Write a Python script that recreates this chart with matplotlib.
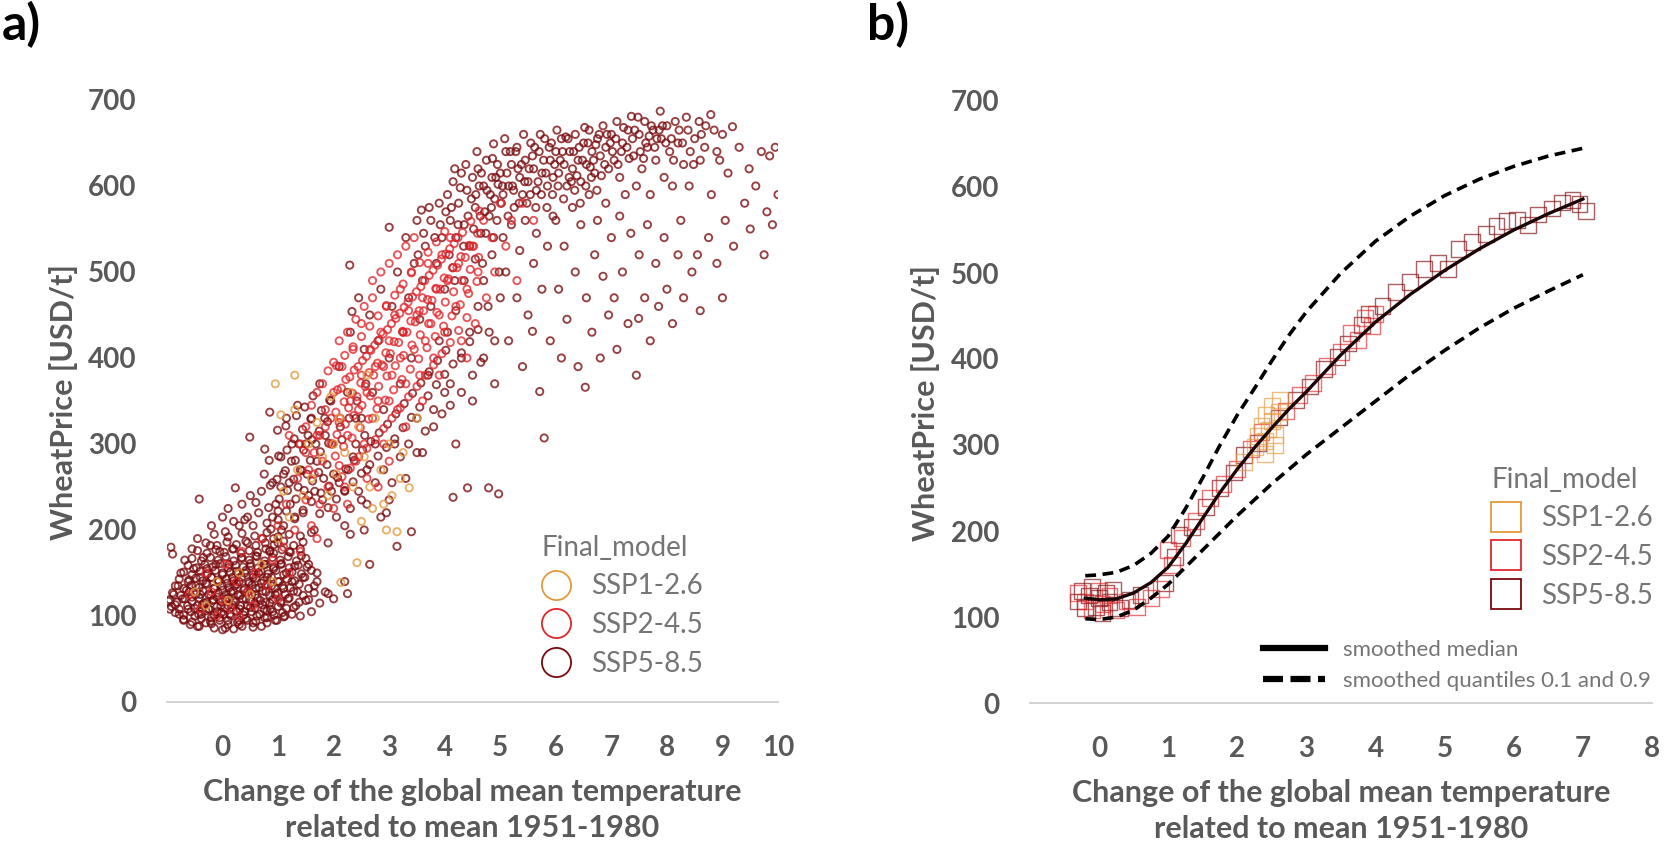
import matplotlib
matplotlib.use("Agg")
import matplotlib.pyplot as plt
from matplotlib.lines import Line2D

plt.rcParams['font.family'] = ['Lato', 'DejaVu Sans']

# colours
c_ssp1 = "#E39A3E"
c_ssp2 = "#E0262B"
c_ssp5 = "#7A0A0D"
grey_txt = "#595959"
grey_leg = "#757575"

scenarios = ["SSP1-2.6", "SSP2-4.5", "SSP5-8.5"]
yticks = [0, 100, 200, 300, 400, 500, 600, 700]
xticks_a = [0, 1, 2, 3, 4, 5, 6, 7, 8, 9, 10]
xticks_b = [0, 1, 2, 3, 4, 5, 6, 7, 8]
xlabel = "Change of the global mean temperature\nrelated to mean 1951-1980"
ylabel = "WheatPrice [USD/t]"

# ---- panel a: all simulations (temperature change, wheat price) ----
a_ssp1 = [(-0.5,128),(-0.3,112),(-0.1,140),(0.1,118),(0.3,150),(0.5,125),(0.7,160),(0.9,140),
          (0.95,370),(1.0,190),(1.05,334),(1.1,245),(1.2,215),(1.3,340),(1.3,380),(1.35,270),
          (1.45,240),(1.55,300),(1.6,260),(1.7,325),(1.8,285),(1.9,240),(1.95,355),(2.0,300),
          (2.05,265),(2.1,330),(2.13,139),(2.2,290),(2.3,360),(2.35,250),(2.42,162),(2.45,320),
          (2.55,285),(2.6,380),(2.7,225),(2.75,330),(2.85,270),(2.95,200),(3.0,300),(3.05,240),
          (3.14,198),(3.25,290),(3.36,249),(3.5,330),(2.65,250),(2.9,230),(3.2,260),(2.5,210)]

a_ssp2 = [(-0.6,125),(-0.4,108),(-0.3,150),(-0.2,128),(-0.1,100),(0.0,118),(0.05,160),(0.15,108),
          (0.25,140),(0.3,100),(0.35,175),(0.45,128),(0.55,112),(0.6,150),(0.7,190),(0.8,135),
          (0.9,165),(1.0,205),(1.0,120),(1.1,180),(1.15,230),(1.2,150),(1.2,310),(1.3,200),
          (1.35,260),(1.4,175),(1.5,235),(1.5,290),(1.6,205),(1.65,265),(1.7,310),(1.7,190),
          (1.75,230),(1.8,280),(1.85,340),(1.9,250),(1.95,300),(2.0,225),(2.0,360),(2.1,275),
          (2.1,325),(2.15,390),(2.2,250),(2.25,310),(2.25,230),(2.3,350),(2.35,410),(2.4,280),
          (2.45,340),(2.5,380),(2.5,440),(2.55,300),(2.6,360),(2.6,260),(2.65,410),(2.7,330),
          (2.7,470),(2.75,390),(2.8,350),(2.8,250),(2.85,430),(2.9,300),(2.9,390),(2.95,460),
          (3.0,350),(3.0,420),(3.0,280),(3.05,380),(3.1,450),(3.15,340),(3.2,400),(3.2,480),
          (3.25,430),(3.3,370),(3.3,320),(3.35,455),(3.4,500),(3.45,410),(3.5,450),(3.55,380),
          (3.6,470),(3.6,350),(3.65,420),(3.7,510),(3.75,440),(3.8,400),(3.85,480),(3.9,450),
          (3.9,380),(3.95,520),(4.0,430),(4.05,490),(4.1,540),(4.2,460),(4.25,510),(4.3,420),
          (4.4,480),(4.4,400),(4.5,530),(4.55,440),(4.6,500),(4.7,560),(4.75,470),(4.85,540),
          (4.9,500),(5.0,580),(5.1,530),(5.2,560),(5.3,490),(5.4,580),(5.6,560),
          (2.03,286),(2.06,311),(2.04,337),(2.07,363),(2.05,391),(2.18,297),(2.21,323),(2.19,349),
          (2.22,375),(2.2,403),(2.33,307),(2.36,333),(2.34,359),(2.37,386),(2.35,413),(2.48,319),
          (2.51,345),(2.49,371),(2.52,397),(2.5,425),(2.63,329),(2.66,356),(2.64,383),(2.67,409),
          (2.65,437),(2.78,341),(2.81,367),(2.79,394),(2.82,421),(2.8,449),(2.93,351),(2.96,379),
          (2.94,406),(2.97,433),(2.95,461),(3.08,363),(3.11,391),(3.09,419),(3.12,446),(3.1,473),
          (3.23,375),(3.26,403),(3.24,431),(3.27,459),(3.25,486),(3.38,387),(3.41,415),(3.39,443),
          (3.42,471),(3.4,499),(3.53,399),(3.56,427),(3.54,455),(3.57,483),(3.55,511),(3.68,412),
          (3.71,440),(3.69,468),(3.72,496),(3.7,523),(3.83,425),(3.86,453),(3.84,481),(3.87,508),
          (3.85,535),(3.98,437),(4.01,465),(3.99,493),(4.02,521),(4.0,547),(4.13,449),(4.16,477),
          (4.14,505),(4.17,533),(4.28,462),(4.31,490),(4.29,518),(4.32,546),(4.43,475),(4.46,503),
          (4.44,531),(4.47,559),(4.58,489),(4.61,517),(4.59,545),(4.62,571),
          (1.4,300),(1.5,320),(1.6,345),(1.7,360),(1.8,370),(1.9,385),(2.0,395),(1.55,270),
          (1.65,290),(1.75,310),(1.85,320),(1.95,330),
          (2.1,420),(2.25,430),(2.4,445),(2.55,460),(2.7,490),(2.85,500),(3.0,510),(3.15,520),
          (3.3,530),(3.45,540),(2.15,262),(2.3,272),(2.45,285),(2.6,295),(2.75,305),(2.9,318),
          (3.05,330),(3.2,342),(3.35,355),(3.5,367),(3.65,380),(3.8,392),(3.95,405),(4.1,418),
          (4.25,432),(4.4,447),(2.12,330),(2.27,342),(2.42,355),(2.57,367),(2.72,380),(2.87,392),
          (3.02,405),(3.17,418),(3.32,430),(3.47,442),(3.62,455),(3.77,467),(3.92,480),(4.07,492),
          (4.22,505),(4.37,517),(4.52,530),(2.14,365),(2.29,378),(2.44,390),(2.59,402),(2.74,415),
          (2.89,428),(3.04,440),(3.19,452),(3.34,465),(3.49,477),(3.64,490),(3.79,502),(3.94,515),
          (4.09,527),(4.24,540)]

a_ssp5 = [
    # cloud around present temperature
    (-0.97,117),(-0.95,108),(-0.93,180),(-0.9,172),(-0.88,125),(-0.85,113),(-0.8,135),(-0.78,102),
    (-0.75,150),(-0.72,120),(-0.7,95),(-0.68,165),(-0.65,130),(-0.62,108),(-0.6,142),(-0.58,90),
    (-0.55,122),(-0.55,178),(-0.52,155),(-0.5,100),(-0.48,135),(-0.45,112),(-0.45,190),(-0.42,88),
    (-0.4,145),(-0.4,125),(-0.38,102),(-0.35,168),(-0.33,115),(-0.3,92),(-0.3,138),(-0.28,155),
    (-0.25,108),(-0.25,125),(-0.22,182),(-0.2,98),(-0.2,145),(-0.18,118),(-0.15,86),(-0.15,132),
    (-0.12,160),(-0.1,105),(-0.1,122),(-0.08,142),(-0.05,95),(-0.05,175),(-0.03,112),(0.0,130),
    (0.0,150),(0.0,84),(0.02,102),(0.05,120),(0.05,198),(0.08,138),(0.1,90),(0.1,112),(0.12,160),
    (0.15,128),(0.15,100),(0.18,145),(0.2,85),(0.2,118),(0.2,178),(0.22,135),(0.25,105),(0.25,152),
    (0.28,125),(0.3,95),(0.3,140),(0.32,112),(0.35,168),(0.35,88),(0.38,130),(0.4,105),(0.4,150),
    (0.42,120),(0.45,95),(0.45,185),(0.48,138),(0.5,110),(0.5,158),(0.52,125),(0.55,92),(0.55,145),
    (0.58,115),(0.6,170),(0.6,132),(0.62,100),(0.65,150),(0.68,118),(0.7,88),(0.7,138),(0.72,190),
    (0.75,108),(0.75,160),(0.78,128),(0.8,98),(0.8,145),(0.85,115),(0.85,175),(0.88,135),(0.9,105),
    (0.92,155),(0.95,125),(0.98,95),(1.0,140),(1.0,185),(1.05,115),(1.05,160),(1.1,132),(1.12,100),
    (1.15,150),(1.18,120),(1.2,175),(1.25,140),(1.28,110),(1.3,158),(1.35,128),(1.4,100),(1.42,170),
    (1.45,145),(1.5,118),(1.55,160),(1.6,105),(1.65,135),(1.7,150),(1.75,115),(1.85,128),(2.0,120),
    (2.2,140),(1.9,126),(2.25,126),
    (-0.45,88),(-0.2,91),(0.05,86),(0.3,90),(0.55,87),(0.8,92),
    (-0.7,96),(-0.55,93),(-0.38,97),(-0.22,94),(-0.05,98),(0.1,95),(0.27,93),(0.42,97),(0.6,94),
    (0.76,98),(0.95,95),(1.1,99),
    (-0.85,104),(-0.7,101),(-0.57,105),(-0.43,102),(-0.3,106),(-0.15,101),(-0.02,104),(0.13,102),
    (0.25,106),(0.38,101),(0.52,105),(0.67,102),(0.8,106),(0.93,101),(1.08,104),(1.25,102),
    (-0.92,111),(-0.78,108),(-0.63,112),(-0.5,109),(-0.36,113),(-0.24,108),(-0.1,111),(0.04,109),
    (0.18,113),(0.31,108),(0.45,112),(0.58,109),(0.72,113),(0.86,108),(1.0,111),(1.15,109),(1.32,112),
    (-0.95,119),(-0.82,116),(-0.68,120),(-0.55,117),(-0.42,121),(-0.29,116),(-0.16,119),(-0.03,117),
    (0.1,121),(0.23,116),(0.36,120),(0.5,117),(0.63,121),(0.77,116),(0.9,119),(1.05,117),(1.2,121),
    (1.38,116),(1.55,119),
    (-0.9,127),(-0.75,124),(-0.6,128),(-0.48,125),(-0.35,129),(-0.21,124),(-0.08,127),(0.06,125),
    (0.19,129),(0.32,124),(0.45,128),(0.59,125),(0.72,129),(0.85,124),(0.99,127),(1.13,125),
    (1.28,129),(1.45,124),(1.65,127),
    (-0.85,135),(-0.7,132),(-0.56,136),(-0.42,133),(-0.28,137),(-0.15,132),(-0.01,135),(0.12,133),
    (0.26,137),(0.4,132),(0.53,136),(0.66,133),(0.8,137),(0.94,132),(1.08,135),(1.22,133),
    (1.38,137),(1.55,132),
    (-0.78,143),(-0.62,140),(-0.48,144),(-0.35,141),(-0.2,145),(-0.07,140),(0.07,143),(0.2,141),
    (0.34,145),(0.47,140),(0.6,144),(0.74,141),(0.88,145),(1.02,140),(1.16,143),(1.3,141),
    (1.48,145),(1.7,140),
    (-0.7,151),(-0.55,148),(-0.4,152),(-0.27,149),(-0.13,153),(0.0,148),(0.14,151),(0.28,149),
    (0.42,153),(0.55,148),(0.69,152),(0.82,149),(0.96,153),(1.1,148),(1.25,151),(1.42,149),(1.6,153),
    (-0.62,159),(-0.47,156),(-0.32,160),(-0.18,157),(-0.04,161),(0.1,156),(0.24,159),(0.37,157),
    (0.5,161),(0.64,156),(0.78,160),(0.92,157),(1.06,161),(1.2,156),(1.36,159),(1.52,157),
    (-0.55,167),(-0.38,164),(-0.22,168),(-0.08,165),(0.06,169),(0.2,164),(0.34,167),(0.48,165),
    (0.62,169),(0.76,164),(0.9,168),(1.04,165),(1.18,169),(1.33,164),(1.5,167),
    (-0.45,176),(-0.28,173),(-0.12,177),(0.03,174),(0.18,178),(0.33,173),(0.48,176),(0.63,174),
    (0.78,178),(0.92,173),(1.07,177),(1.22,174),(1.4,178),
    (-0.3,185),(-0.1,182),(0.08,186),(0.25,183),(0.42,187),(0.6,182),(0.77,185),(0.93,183),
    (1.1,187),(1.28,182),(1.45,186),
    (-0.15,195),(0.1,192),(0.35,196),(0.58,193),(0.8,197),(1.0,192),(1.2,195),(1.4,193),(1.6,197),
    (0.3,205),(0.45,215),(0.55,205),(0.65,220),(0.7,245),(0.5,240),(0.2,210),(0.0,215),
    (-0.2,205),(0.35,230),(0.9,215),(0.75,265),(1.05,250),
    # rising band 0 - 2.5
    (-0.42,236),(0.1,225),(0.23,249),(0.4,212),(0.49,308),(0.6,232),(0.76,294),(0.8,208),(0.85,337),
    (0.9,255),(1.0,222),(1.05,285),(1.1,205),(1.15,330),(1.2,255),(1.25,300),(1.3,215),(1.35,345),
    (1.4,270),(1.45,220),(1.5,300),(1.55,240),(1.6,330),(1.65,200),(1.7,280),(1.75,370),(1.8,235),
    (1.85,310),(1.9,185),(1.95,350),(2.0,265),(2.05,215),(2.1,390),(2.15,305),(2.2,245),(2.25,360),
    (2.29,508),(2.3,195),(2.3,430),(2.33,454),(2.35,285),(2.4,330),(2.45,470),(2.5,235),
    (0.85,176),(0.87,201),(0.83,226),(0.86,252),(0.84,281),(1.0,212),(1.02,236),(0.98,259),
    (1.01,286),(0.99,316),(1.15,222),(1.17,246),(1.13,269),(1.16,293),(1.14,321),(1.3,213),
    (1.32,236),(1.28,259),(1.31,281),(1.29,306),(1.33,333),(1.45,223),(1.47,246),(1.43,269),
    (1.46,293),(1.44,317),(1.48,343),(1.6,233),(1.62,257),(1.58,281),(1.61,305),(1.59,329),
    (1.63,356),(1.75,219),(1.77,243),(1.73,267),(1.76,291),(1.74,315),(1.78,339),(1.9,226),
    (1.92,251),(1.88,276),(1.91,301),(1.89,326),(1.93,351),
    (0.92,190),(0.96,230),(1.06,200),(1.1,265),(1.22,230),(1.24,280),(1.36,250),(1.38,300),
    (1.52,265),(1.54,310),(1.66,245),(1.68,300),(1.82,260),(1.84,330),(1.96,245),(1.98,300),
    (2.1,255),(2.12,320),(2.26,270),(2.28,330),(2.4,300),(2.42,350),(2.56,310),(2.58,370),
    (2.05,236),(2.07,261),(2.2,246),(2.22,271),(2.35,256),(2.37,281),(2.5,266),(2.52,293),
    (2.65,276),(2.67,303),(2.8,286),(2.82,313),(2.95,296),(2.97,323),(3.1,306),(3.12,335),
    (3.25,319),(3.27,347),(3.4,331),(3.42,359),(3.55,343),(3.57,371),(3.7,356),(3.72,384),
    (3.85,369),(3.87,397),(4.0,381),(4.02,409),(4.15,393),(4.3,406),(4.45,419),(4.6,433),
    (2.3,225),(2.45,245),(2.6,230),(2.75,255),(2.9,270),(3.05,255),(3.2,285),(3.35,300),
    (3.5,290),(3.65,315),(3.8,320),(3.95,335),(4.1,345),(4.3,360),(4.5,380),(4.7,400),(4.9,420),
    (2.2,205),(2.55,200),(2.85,215),(3.0,235),
    # 2.5 - 4
    (2.5,330),(2.55,410),(2.6,270),(2.65,160),(2.65,450),(2.7,360),(2.75,300),(2.8,420),(2.85,480),
    (2.9,340),(2.95,220),(3.0,400),(3.0,552),(3.05,460),(3.1,300),(3.14,181),(3.15,500),(3.2,370),
    (3.25,430),(3.3,260),(3.3,540),(3.35,470),(3.4,198),(3.4,400),(3.45,510),(3.5,330),(3.5,560),
    (3.55,445),(3.58,572),(3.6,290),(3.6,490),(3.65,530),(3.7,380),(3.75,560),(3.75,460),(3.8,340),
    (3.85,510),(3.9,580),(3.9,420),(3.95,540),(4.0,360),(4.15,238),
    (3.52,520),(3.62,545),(3.72,575),(3.82,540),(3.92,555),(4.02,570),(4.08,520),(4.18,490),
    # 4 - 5
    (4.05,590),(4.1,560),(4.15,605),(4.2,540),(4.25,580),(4.3,615),(4.35,555),(4.4,595),(4.45,530),
    (4.5,610),(4.55,575),(4.6,620),(4.65,545),(4.7,600),(4.75,630),(4.8,565),(4.85,610),(4.88,649),
    (4.9,585),(4.95,625),(4.0,480),(4.05,430),(4.1,370),(4.15,505),(4.2,300),(4.2,455),(4.3,400),
    (4.35,490),(4.41,249),(4.45,430),(4.5,350),(4.55,515),(4.6,460),(4.65,395),(4.7,490),(4.79,249),
    (4.8,430),(4.85,520),(4.9,370),(4.97,242),(5.0,470),
    (4.62,600),(4.68,510),(4.72,570),(4.78,460),(4.82,590),(4.88,540),(4.92,610),(4.98,500),
    (4.12,575),(4.18,620),(4.28,598),(4.38,625),(4.48,585),(4.58,640),(4.66,615),(4.76,595),
    (4.86,632),(4.96,602),(4.24,555),(4.34,530),(4.42,565),(4.52,550),(4.56,590),(4.64,565),
    (4.74,545),(4.84,575),(4.94,560),
    # 5 - 6
    (5.0,615),(5.05,590),(5.1,640),(5.15,600),(5.2,625),(5.25,575),(5.3,645),(5.35,610),(5.4,590),
    (5.45,630),(5.5,605),(5.55,650),(5.6,620),(5.65,595),(5.7,640),(5.75,615),(5.8,655),(5.85,600),
    (5.9,630),(5.95,610),(5.05,540),(5.1,500),(5.15,420),(5.2,555),(5.3,470),(5.35,525),(5.4,390),
    (5.45,560),(5.5,450),(5.58,431),(5.6,510),(5.65,545),(5.71,361),(5.75,480),(5.79,307),(5.85,530),
    (5.9,420),(5.95,565),
    (5.02,580),(5.12,615),(5.22,600),(5.28,640),(5.38,625),(5.48,580),(5.52,620),(5.62,645),
    (5.68,605),(5.78,630),(5.88,645),(5.98,625),
    (5.08,655),(5.18,640),(5.32,620),(5.42,660),(5.58,635),(5.72,660),(5.82,615),(5.92,650),
    (5.04,600),(5.14,565),(5.24,595),(5.34,580),(5.44,605),(5.54,590),(5.64,575),(5.74,590),
    (5.84,575),(5.94,590),
    # 6 - 7
    (6.0,640),(6.05,615),(6.1,655),(6.15,625),(6.18,657),(6.2,600),(6.25,640),(6.3,620),(6.35,660),
    (6.4,630),(6.45,605),(6.5,650),(6.55,625),(6.6,665),(6.65,640),(6.7,615),(6.75,655),(6.8,635),
    (6.85,670),(6.9,645),(6.95,620),(6.0,560),(6.05,480),(6.1,400),(6.15,530),(6.2,445),(6.3,575),
    (6.35,500),(6.4,390),(6.45,555),(6.53,366),(6.55,470),(6.6,590),(6.65,430),(6.7,520),(6.75,560),
    (6.8,400),(6.85,495),(6.9,580),(6.95,450),
    (6.08,630),(6.22,655),(6.28,605),(6.42,645),(6.48,630),(6.58,650),(6.68,630),(6.78,660),
    (6.88,625),(6.98,650),
    (6.02,665),(6.12,640),(6.32,640),(6.38,612),(6.52,668),(6.62,622),(6.72,648),(6.82,612),
    (6.92,660),(6.04,600),(6.14,585),(6.24,610),(6.34,595),(6.44,580),(6.54,600),(6.64,610),
    (6.74,595),
    # 7 - 8
    (7.0,660),(7.05,630),(7.1,675),(7.15,610),(7.2,650),(7.25,590),(7.3,665),(7.36,681),(7.4,635),
    (7.45,600),(7.5,660),(7.55,620),(7.6,675),(7.65,645),(7.7,590),(7.75,665),(7.8,630),(7.88,687),
    (7.9,655),(7.95,610),(7.0,540),(7.05,470),(7.1,410),(7.15,565),(7.2,500),(7.3,440),(7.35,545),
    (7.45,380),(7.49,446),(7.5,520),(7.6,470),(7.65,555),(7.7,420),(7.8,510),(7.85,460),(7.95,540),
    (7.08,655),(7.18,640),(7.28,645),(7.42,665),(7.52,640),(7.62,650),(7.72,670),(7.82,655),(7.92,670),
    (7.02,640),(7.12,625),(7.22,668),(7.32,632),(7.38,655),(7.48,680),(7.58,632),(7.68,658),
    (7.78,645),(7.86,665),(7.98,650),
    # 8 - 10
    (8.0,670),(8.05,640),(8.1,600),(8.15,675),(8.2,650),(8.25,560),(8.3,625),(8.35,680),(8.4,600),
    (8.5,655),(8.55,520),(8.6,630),(8.7,670),(8.79,683),(8.8,590),(8.9,640),(9.0,660),(9.05,560),
    (9.1,615),(9.18,669),(9.2,530),(9.3,645),(9.4,580),(9.48,620),(9.5,550),(9.6,600),(9.7,640),
    (9.75,520),(9.8,570),(9.85,635),(9.9,555),(9.95,645),(10.0,590),(8.0,480),(8.1,440),(8.2,520),
    (8.3,470),(8.45,500),(8.6,455),(8.75,540),(8.9,510),(9.0,470),
    (8.08,655),(8.22,665),(8.42,640),(8.62,660),
    (8.12,630),(8.28,650),(8.38,665),(8.48,625),(8.58,675),(8.68,645),(8.85,665),(8.95,630)]

# ---- panel b: selected simulations ----
b_ssp1 = [(2.25,298),(2.3,310),(2.35,322),(2.4,305),(2.42,335),(2.45,318),(2.5,328),(2.5,345),
          (2.55,312),(2.6,338),(2.62,352),(2.4,290),(2.55,300),(2.1,280)]
b_ssp2 = [(-0.3,128),(-0.2,118),(-0.1,108),(0.0,130),(0.05,115),(0.15,125),(0.25,108),(0.4,118),
          (0.55,112),(0.75,122),(0.9,133),(1.0,178),(1.05,160),(1.2,192),(1.4,212),(1.6,238),
          (1.8,255),(2.0,272),(2.2,295),(2.35,315),(2.7,340),(2.9,358),(3.1,372),(3.3,392),
          (3.5,408),(3.65,430),(3.75,422),(3.85,448),(3.95,438),(4.0,452)]
b_ssp5 = [(-0.3,118),(-0.25,130),(-0.2,110),(-0.15,125),(-0.1,135),(-0.05,112),(0.0,122),(0.05,105),
          (0.1,128),(0.15,117),(0.2,132),(0.3,110),(0.45,120),(0.6,126),(0.95,140),(1.1,170),
          (1.15,195),(1.35,205),(1.55,228),(1.75,250),(1.95,268),(2.1,288),(2.3,302),(2.6,332),
          (2.85,352),(3.05,368),(3.25,388),(3.45,402),(3.6,418),(3.8,440),(3.9,452),(4.1,462),
          (4.3,478),(4.5,490),(4.7,505),(4.9,512),(5.05,505),(5.2,528),(5.4,536),(5.6,545),
          (5.75,555),(5.9,560),(6.05,562),(6.2,556),(6.35,568),(6.55,575),(6.7,582),(6.85,585),
          (6.95,580),(7.05,572)]

med_x = [-0.2, 0.0, 0.25, 0.5, 0.75, 1.0, 1.25, 1.5, 1.75, 2.0, 2.25, 2.5, 2.75, 3.0, 3.5, 4.0,
         4.5, 5.0, 5.5, 6.0, 6.5, 7.0]
med_y = [122, 120, 121, 128, 140, 158, 185, 215, 245, 272, 297, 320, 342, 362, 405, 443,
         475, 503, 528, 550, 569, 586]
q90_x = [-0.2, 0.0, 0.25, 0.5, 0.75, 1.0, 1.25, 1.5, 1.75, 2.0, 2.25, 2.5, 2.75, 3.0, 3.5, 4.0,
         4.5, 5.0, 5.5, 6.0, 6.5, 7.0]
q90_y = [148, 149, 152, 160, 174, 194, 226, 262, 300, 335, 366, 398, 428, 455, 500, 537,
         566, 590, 609, 624, 636, 645]
q10_x = [-0.2, 0.0, 0.25, 0.5, 0.75, 1.0, 1.25, 1.5, 1.75, 2.0, 2.5, 3.0, 3.5, 4.0, 4.5, 5.0,
         5.5, 6.0, 6.5, 7.0]
q10_y = [98, 97, 100, 108, 122, 138, 158, 178, 198, 218, 255, 289, 320, 351, 382, 410,
         436, 459, 479, 498]

W, H = 1680, 851
fig = plt.figure(figsize=(W / 100, H / 100), dpi=100)

def px(l, b, r, t):
    return [l / W, 1 - b / H, (r - l) / W, (b - t) / H]

ax_a = fig.add_axes(px(167, 702, 778, 702 - 720 * 0.86))
ax_b = fig.add_axes(px(1030, 703, 1652, 703 - 720 * 0.86))


def style(ax, xticks, xmin, xmax):
    ax.set_xlim(xmin, xmax)
    ax.set_ylim(0, 720)
    ax.set_xticks(xticks)
    ax.set_yticks(yticks)
    for s in ["top", "right", "left"]:
        ax.spines[s].set_visible(False)
    ax.spines["bottom"].set_color("#cfcfcf")
    ax.spines["bottom"].set_linewidth(1.3)
    ax.tick_params(axis="both", length=0, labelsize=20, labelcolor=grey_txt)
    ax.tick_params(axis="x", pad=24)
    ax.tick_params(axis="y", pad=22)
    for lbl in ax.get_xticklabels() + ax.get_yticklabels():
        lbl.set_fontweight("bold")
    ax.set_xlabel(xlabel, fontsize=22, fontweight="bold", color=grey_txt, linespacing=1.35)
    ax.set_ylabel(ylabel, fontsize=22, fontweight="bold", color=grey_txt)
    ax.xaxis.set_label_coords(0.5, -0.122)
    ax.yaxis.set_label_coords(-0.145, 0.485)


style(ax_a, xticks_a, -1.0, 10.0)
style(ax_b, xticks_b, -1.0, 8.0)

# panel a scatter
for pts, col in [(a_ssp5, c_ssp5), (a_ssp2, c_ssp2), (a_ssp1, c_ssp1)]:
    xs, ys = zip(*pts)
    ax_a.scatter(xs, ys, s=27, facecolors="none", edgecolors=col, linewidths=1.35, alpha=0.78)

# panel b squares and smoothed curves
for pts, col in [(b_ssp5, c_ssp5), (b_ssp2, c_ssp2), (b_ssp1, c_ssp1)]:
    xs, ys = zip(*pts)
    ax_b.scatter(xs, ys, s=130, marker="s", facecolors="none", edgecolors=col,
                 linewidths=1.0, alpha=0.65)
ax_b.plot(med_x, med_y, color="#1a0606", lw=2.4, zorder=5)
ax_b.plot(q90_x, q90_y, color="black", lw=2.6, dashes=(3, 1.8), zorder=5)
ax_b.plot(q10_x, q10_y, color="black", lw=2.6, dashes=(3, 1.8), zorder=5)

# legends
cols = [c_ssp1, c_ssp2, c_ssp5]
h_a = [Line2D([], [], ls="", marker="o", ms=21, mfc="none", mec=c, mew=1.3) for c in cols]
h_b = [Line2D([], [], ls="", marker="s", ms=21, mfc="none", mec=c, mew=1.3) for c in cols]

def add_legend(ax, handles, x0, y0):
    leg = ax.legend(handles, scenarios, title="Final_model", loc="upper left",
                    bbox_to_anchor=(x0 / W, 1 - y0 / H), bbox_transform=fig.transFigure,
                    frameon=False, fontsize=20, title_fontsize=20, handlelength=1.0,
                    handletextpad=0.75, labelspacing=0.45, borderpad=0, borderaxespad=0,
                    alignment="left", labelcolor=grey_leg)
    leg.get_title().set_color(grey_leg)
    return leg

leg_a = add_legend(ax_a, h_a, 542, 535)
leg_b = add_legend(ax_b, h_b, 1492, 467)
ax_b.add_artist(leg_b)

h_lines = [Line2D([], [], color="black", lw=4.5),
           Line2D([], [], color="black", lw=4.5, dashes=(3.2, 1.2))]
ax_b.legend(h_lines, ["smoothed median", "smoothed quantiles 0.1 and 0.9"], loc="upper left",
            bbox_to_anchor=(1263 / W, 1 - 640 / H), bbox_transform=fig.transFigure,
            frameon=False, fontsize=16, handlelength=2.8, handletextpad=0.8,
            labelspacing=0.5, borderpad=0, borderaxespad=0, labelcolor=grey_leg)

fig.text(2 / W, 1 - 25 / H, "a)", fontsize=36, fontweight="bold", color="black",
         ha="left", va="center")
fig.text(867 / W, 1 - 25 / H, "b)", fontsize=36, fontweight="bold", color="black",
         ha="left", va="center")

fig.savefig("out.png", dpi=100)
